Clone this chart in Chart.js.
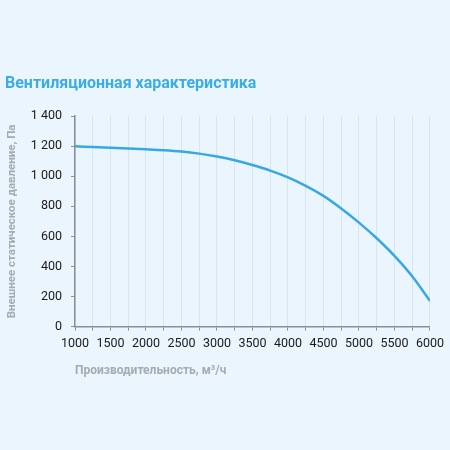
<!DOCTYPE html>
<html>
<head>
<meta charset="utf-8">
<script src="https://cdn.jsdelivr.net/npm/chart.js@4"></script>
<style>
  html, body { margin: 0; padding: 0; background: #ebf5fd; }
  #wrap { width: 450px; height: 450px; position: relative; }
</style>
</head>
<body>
<div id="wrap"><canvas id="fan-chart"></canvas></div>
<script>
// airflow, m3/h
const flow = [1000, 1250, 1500, 1750, 2000, 2250, 2500, 2750, 3000, 3250, 3500,
  3750, 4000, 4250, 4500, 4750, 5000, 5250, 5500, 5750, 6000];
// external static pressure, Pa
const pressure = [1200, 1195, 1190, 1185, 1180, 1174, 1165, 1151, 1132, 1107, 1075,
  1038, 993, 937, 870, 786, 692, 588, 471, 335, 171];

const chartTitle = "Вентиляционная характеристика";
const xTitle = "Производительность, м³/ч";
const yTitle = "Внешнее статическое давление, Па";

const points = flow.map((x, i) => ({ x: x, y: pressure[i] }));

const grey = "#a3abb3";
const fontFamily = "Roboto, 'Liberation Sans', Arial, sans-serif";

const ctx = document.getElementById("fan-chart").getContext("2d");
const fanChart = new Chart(ctx, {
  type: "line",
  data: {
    datasets: [{
      data: points,
      borderColor: "#37a8e2",
      borderWidth: 2.5,
      pointRadius: 0,
      cubicInterpolationMode: "monotone",
      fill: false
    }]
  },
  options: {
    responsive: true,
    maintainAspectRatio: false,
    animation: false,
    layout: { padding: { left: 5, right: 6, top: 0, bottom: 68 } },
    plugins: {
      legend: { display: false },
      tooltip: { enabled: false },
      title: {
        display: true,
        text: chartTitle,
        align: "start",
        color: "#3aace6",
        font: { family: fontFamily, size: 16, weight: "bold" },
        padding: { top: 74, bottom: 23 }
      }
    },
    scales: {
      x: {
        type: "linear",
        min: 1000,
        max: 6000,
        grid: { color: "#d9e4ee", tickColor: "#8a8f94", tickLength: 4 },
        border: { color: "#8a8f94", width: 1.5 },
        ticks: {
          stepSize: 250,
          autoSkip: false,
          maxRotation: 0,
          color: "#1a1a1a",
          padding: 6,
          font: { family: fontFamily, size: 12.5 },
          callback: (v) => (v % 500 === 0 ? String(v) : "")
        },
        title: {
          display: true,
          text: xTitle,
          align: "start",
          color: grey,
          padding: { top: 6 },
          font: { family: fontFamily, size: 12, weight: "bold" }
        }
      },
      y: {
        min: 0,
        max: 1400,
        grid: { drawOnChartArea: false, tickColor: "#8a8f94", tickLength: 4 },
        border: { color: "#8a8f94", width: 1.5 },
        ticks: {
          stepSize: 200,
          color: "#1a1a1a",
          padding: 9,
          font: { family: fontFamily, size: 12.5 },
          callback: (v) => v.toLocaleString("ru-RU").replace(/\s/g, " ")
        },
        title: {
          display: true,
          text: yTitle,
          color: grey,
          padding: { top: 0, bottom: 3 },
          font: { family: fontFamily, size: 11.5, weight: "bold" }
        }
      }
    }
  }
});
</script>
</body>
</html>
